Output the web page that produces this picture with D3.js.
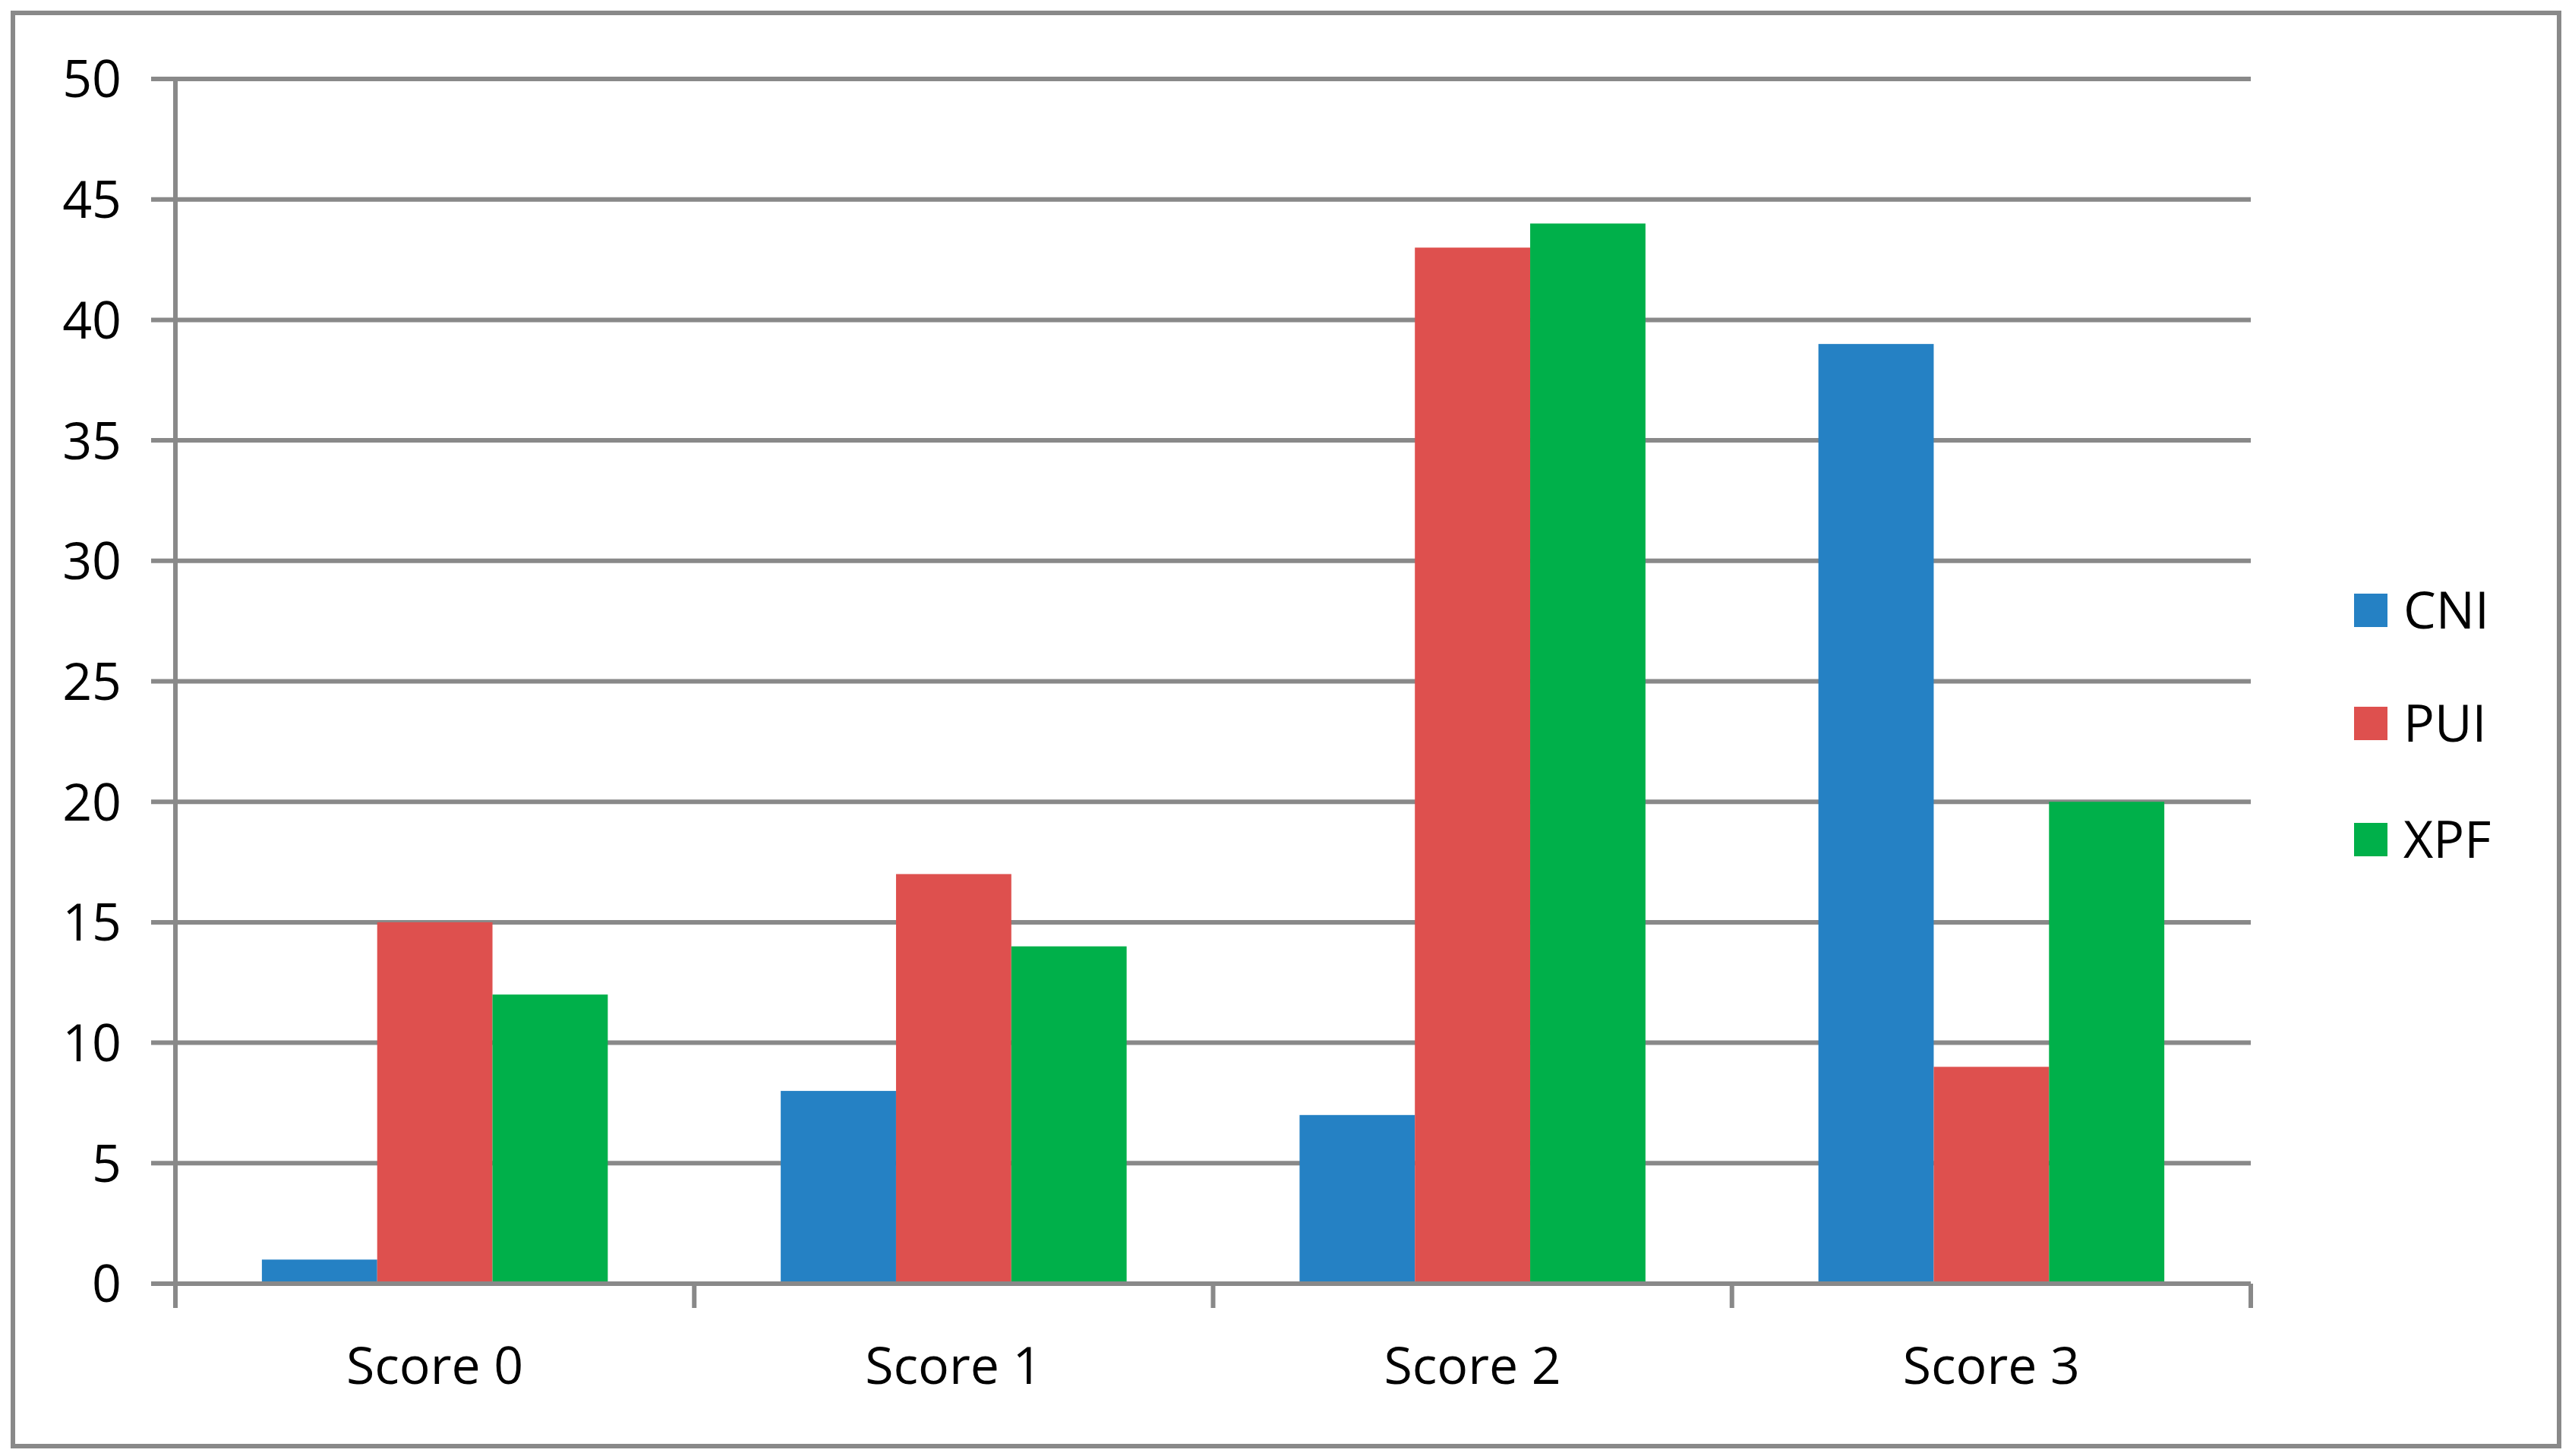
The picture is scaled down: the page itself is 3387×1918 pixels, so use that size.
<!DOCTYPE html>
<meta charset="utf-8">
<html lang="en">
<head>
    <title>Scores</title>
    <script src="https://cdn.jsdelivr.net/npm/d3@7"></script>
    <style>
        body { margin: 0; background: #fff; }
        text { font-family: "Open Sans", "Noto Sans", sans-serif; fill: #000; }
    </style>
</head>
<body>
<svg id="chart" width="3387" height="1918"></svg>
<script>
    // data
    var categories = ["Score 0", "Score 1", "Score 2", "Score 3"];
    var seriesNames = ["CNI", "PUI", "XPF"];
    var cni = [1, 8, 7, 39];
    var pui = [15, 17, 43, 9];
    var xpf = [12, 14, 44, 20];
    var yTicks = [0, 5, 10, 15, 20, 25, 30, 35, 40, 45, 50];
    var colors = ["#2581C4", "#DE504E", "#00B04A"];
    var series = [cni, pui, xpf];

    var svg = d3.select("#chart");
    var plotLeft = 231, plotRight = 2964, plotTop = 104, plotBottom = 1691;
    var grey = "#898989";

    svg.append("rect").attr("x", 17).attr("y", 17).attr("width", 3353).attr("height", 1888)
        .attr("fill", "#fff").attr("stroke", grey).attr("stroke-width", 6);

    var y = d3.scaleLinear().domain([0, 50]).range([plotBottom, plotTop]);
    var x0 = d3.scaleBand().domain(categories).range([plotLeft, plotRight])
        .paddingInner(1 / 3).paddingOuter(1 / 6);
    var x1 = d3.scaleBand().domain(seriesNames).range([0, x0.bandwidth()]);

    //gridlines
    svg.append("g").selectAll("line").data(yTicks).enter().append("line")
        .attr("x1", plotLeft - 32).attr("x2", plotRight)
        .attr("y1", function (d) { return y(d); }).attr("y2", function (d) { return y(d); })
        .attr("stroke", grey).attr("stroke-width", 6);

    svg.append("g").selectAll("text").data(yTicks).enter().append("text")
        .attr("x", 160).attr("y", function (d) { return y(d); })
        .attr("dy", "0.36em").attr("text-anchor", "end")
        .attr("font-size", 68).text(function (d) { return d; });

    //bars
    var groups = svg.append("g").selectAll("g").data(categories).enter().append("g")
        .attr("transform", function (d) { return "translate(" + x0(d) + ",0)"; });
    groups.selectAll("rect").data(function (d, i) {
        return seriesNames.map(function (s, j) { return { s: s, v: series[j][i], c: colors[j] }; });
    }).enter().append("rect")
        .attr("x", function (d) { return x1(d.s); })
        .attr("width", x1.bandwidth())
        .attr("y", function (d) { return y(d.v); })
        .attr("height", function (d) { return plotBottom - y(d.v); })
        .attr("fill", function (d) { return d.c; });

    //axes
    svg.append("line").attr("x1", plotLeft).attr("x2", plotLeft).attr("y1", plotTop).attr("y2", plotBottom + 32)
        .attr("stroke", grey).attr("stroke-width", 6);
    svg.append("line").attr("x1", plotLeft).attr("x2", plotRight).attr("y1", plotBottom).attr("y2", plotBottom)
        .attr("stroke", grey).attr("stroke-width", 6);
    var step = (plotRight - plotLeft) / categories.length;
    svg.append("g").selectAll("line").data(d3.range(categories.length + 1)).enter().append("line")
        .attr("x1", function (d) { return plotLeft + d * step; }).attr("x2", function (d) { return plotLeft + d * step; })
        .attr("y1", plotBottom).attr("y2", plotBottom + 32)
        .attr("stroke", grey).attr("stroke-width", 6);

    svg.append("g").selectAll("text").data(categories).enter().append("text")
        .attr("x", function (d) { return x0(d) + x0.bandwidth() / 2; })
        .attr("y", 1823).attr("text-anchor", "middle")
        .attr("font-size", 68).text(function (d) { return d; });

    //legend
    var legendY = [804, 953, 1106];
    var legend = svg.append("g").selectAll("g").data(seriesNames).enter().append("g")
        .attr("transform", function (d, i) { return "translate(3100," + legendY[i] + ")"; });
    legend.append("rect").attr("x", 0).attr("y", -22).attr("width", 44).attr("height", 44)
        .attr("fill", function (d, i) { return colors[i]; });
    legend.append("text").attr("x", 65).attr("dy", "0.36em")
        .attr("font-size", 68).text(function (d) { return d; });
</script>
</body>
</html>
